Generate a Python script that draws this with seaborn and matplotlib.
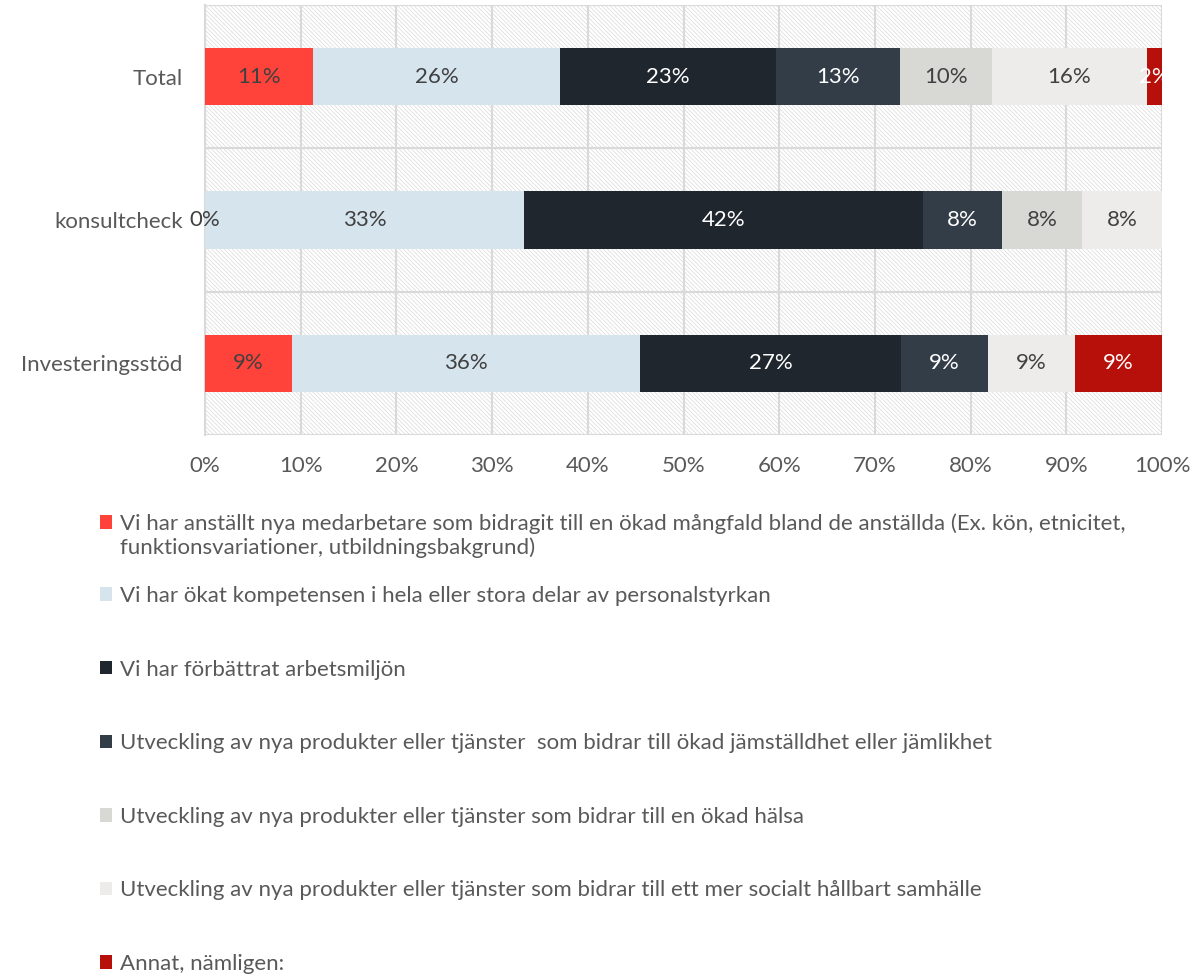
import numpy as np
import pandas as pd
import matplotlib
matplotlib.use("Agg")
import matplotlib.pyplot as plt
from matplotlib.patches import Rectangle, Patch
from matplotlib.legend_handler import HandlerPatch
import seaborn as sns

categories = ["Total", "konsultcheck", "Investeringsstöd"]
series = [
    "Vi har anställt nya medarbetare som bidragit till en ökad mångfald bland de anställda (Ex. kön, etnicitet,\nfunktionsvariationer, utbildningsbakgrund)",
    "Vi har ökat kompetensen i hela eller stora delar av personalstyrkan",
    "Vi har förbättrat arbetsmiljön",
    "Utveckling av nya produkter eller tjänster  som bidrar till ökad jämställdhet eller jämlikhet",
    "Utveckling av nya produkter eller tjänster som bidrar till en ökad hälsa",
    "Utveckling av nya produkter eller tjänster som bidrar till ett mer socialt hållbart samhälle",
    "Annat, nämligen:",
]
# percentage values per series (rows follow categories)
s1 = [11.29, 0.0, 9.09]
s2 = [25.81, 33.33, 36.36]
s3 = [22.58, 41.67, 27.27]
s4 = [12.90, 8.33, 9.09]
s5 = [9.68, 8.33, np.nan]
s6 = [16.13, 8.33, 9.09]
s7 = [1.61, np.nan, 9.09]
values = [s1, s2, s3, s4, s5, s6, s7]

colors = ["#FF433B", "#D6E4EE", "#1F262D", "#333D48", "#D8D9D5", "#EEECEA", "#B70F0A"]
label_colors = ["#404040", "#404040", "white", "white", "#404040", "#404040", "white"]
xticks = [0, 10, 20, 30, 40, 50, 60, 70, 80, 90, 100]

FS = 16

sns.set_theme(style="white")
plt.rcParams["font.family"] = ["Lato", "DejaVu Sans"]
plt.rcParams["hatch.linewidth"] = 0.5
plt.rcParams["hatch.color"] = "#DADADA"

fig = plt.figure(figsize=(12.04, 9.76), dpi=100)
ax = fig.add_axes([205 / 1204, 1 - 435 / 976, (1162 - 205) / 1204, 430 / 976])

arr = np.nan_to_num(np.array(values, dtype=float))
cum = np.cumsum(arr, axis=0)

# draw cumulative bars from the largest to the smallest so each shows its segment
for i in range(len(series) - 1, -1, -1):
    df = pd.DataFrame({"cat": categories, "val": cum[i]})
    sns.barplot(data=df, y="cat", x="val", orient="h", color=colors[i],
                width=0.4, ax=ax, saturation=1, linewidth=0, zorder=3)

# labels
for i in range(len(series)):
    for j in range(len(categories)):
        v = values[i][j]
        if np.isnan(v):
            continue
        left = cum[i][j] - arr[i][j]
        ax.text(left + arr[i][j] / 2, j, f"{v:.0f}%", ha="center", va="center",
                color=label_colors[i], fontsize=FS, zorder=5,
                clip_on=(i == len(series) - 1))

# hatched background
bg = Rectangle((0, 0), 1, 1, transform=ax.transAxes, facecolor="white",
               edgecolor="#DADADA", hatch=chr(92) * 8, linewidth=0, zorder=0)
ax.add_patch(bg)

ax.set_xlim(0, 100)
ax.set_ylim(2.5, -0.5)
ax.set_xticks(xticks)
ax.set_xticklabels([f"{t}%" for t in xticks])
for t in xticks:
    ax.axvline(t, color="#D9D9D9", lw=1.5, zorder=1)
for yb in [-0.5, 0.5, 1.5, 2.5]:
    ax.axhline(yb, color="#D9D9D9", lw=1.5, zorder=1)
for sp in ax.spines.values():
    sp.set_visible(False)
ax.spines["left"].set_visible(True)
ax.spines["left"].set_color("#D9D9D9")
ax.spines["left"].set_linewidth(1.5)
ax.set_xlabel("")
ax.set_ylabel("")
ax.tick_params(axis="x", labelsize=FS, labelcolor="#595959", length=0, pad=15)
ax.tick_params(axis="y", labelsize=FS, labelcolor="#595959", length=0, pad=16)


class TopHandler(HandlerPatch):
    """Place the legend square next to the first line of a two-line label."""
    def create_artists(self, legend, orig_handle, xdescent, ydescent, width,
                       height, fontsize, trans):
        p = Rectangle((-xdescent, -ydescent + 0.6 * fontsize), width, height)
        self.update_prop(p, orig_handle, legend)
        p.set_transform(trans)
        return [p]


# legend
handles = [Patch(facecolor=c, edgecolor="none") for c in colors]
fig.legend(handles[:1], series[:1], loc="upper left",
           bbox_to_anchor=(80 / 1204, 1 - 493 / 976), frameon=False,
           fontsize=FS, handlelength=0.55, handleheight=0.55, handletextpad=0.35,
           labelcolor="#595959", handler_map={Patch: TopHandler()})
fig.legend(handles[1:], series[1:], loc="upper left",
           bbox_to_anchor=(80 / 1204, 1 - 566 / 976), frameon=False,
           fontsize=FS, handlelength=0.55, handleheight=0.55, handletextpad=0.35,
           labelspacing=2.41, labelcolor="#595959")

fig.savefig("out.png", dpi=100)
